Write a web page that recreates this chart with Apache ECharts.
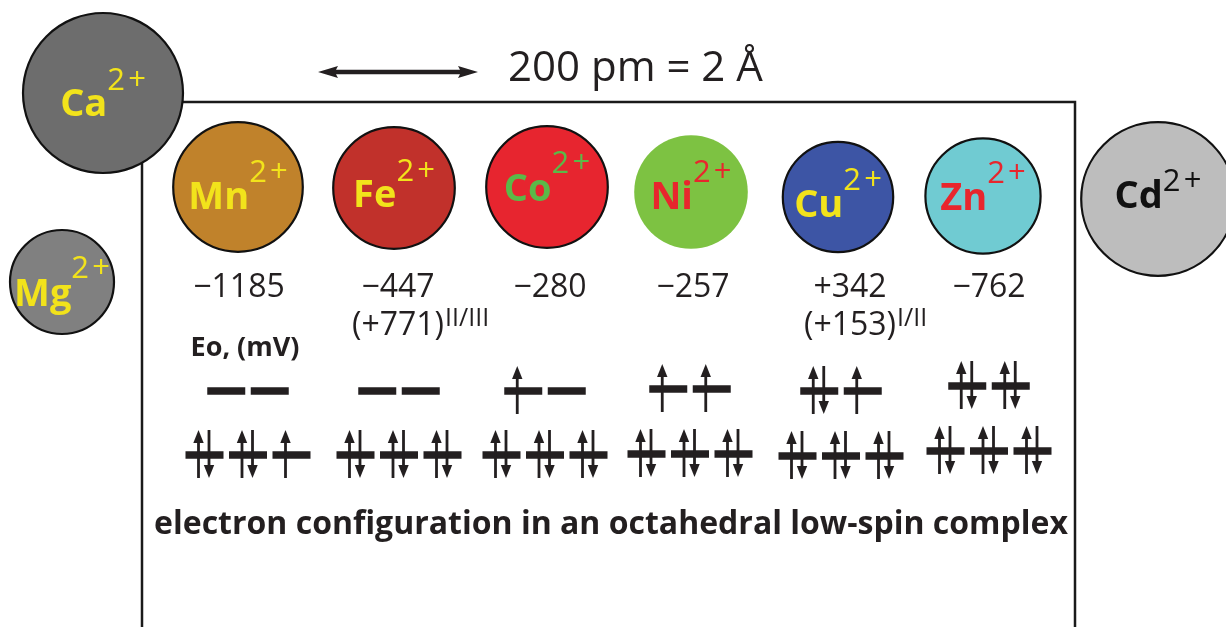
<!DOCTYPE html>
<html><head><meta charset="utf-8">
<script src="https://cdn.jsdelivr.net/npm/echarts@6/dist/echarts.min.js"></script>
<style>html,body{margin:0;padding:0;background:#fff}#chart{width:1226px;height:627px}</style>
</head><body><div id="chart"></div>
<script>
// ---------------- data ----------------
const ionSymbols = ['Ca', 'Mg', 'Mn', 'Fe', 'Co', 'Ni', 'Cu', 'Zn', 'Cd'];
const ionCharge = '2+';
const ionRadiusPm = [100, 65, 81, 76, 76, 71, 69, 72, 96];
const scaleBarPm = 200;
const scaleLabel = '200 pm = 2 Å';

const metals = ['Mn', 'Fe', 'Co', 'Ni', 'Cu', 'Zn'];
const e0mV = [-1185, -447, -280, -257, 342, -762];
const e0AltmV = [null, 771, null, null, 153, null];
const e0AltCouple = [null, 'II/III', null, null, 'I/II', null];
const t2gElectrons = [[2, 2, 1], [2, 2, 2], [2, 2, 2], [2, 2, 2], [2, 2, 2], [2, 2, 2]];
const egElectrons = [[0, 0], [0, 0], [1, 0], [1, 1], [2, 1], [2, 2]];
const e0Title = 'Eo, (mV)';
const caption = 'electron configuration in an octahedral low-spin complex';

// ---------------- layout / style ----------------
const PX_PER_PM = 0.8;
const ionCx = [103, 62, 238, 394, 547, 691, 838, 983, 1158];
const ionCy = [93, 282, 187, 188, 187, 192, 197, 196, 199];
const ionFill = ['#6d6d6d', '#808080', '#c0822b', '#c1312b', '#e7252f', '#7dc242', '#3d55a5', '#70cbd2', '#bdbdbd'];
const ionTextColor = ['#f2e31b', '#f2e31b', '#f2e31b', '#f2e31b', '#5bb948', '#e8262d', '#f2e31b', '#e8262d', '#111111'];
const ionOutline = [true, true, true, true, true, false, true, true, true];
const symDy = [25, 26, 24, 21, 16, 19, 22, 16, 11];
const supDy = [-2, -3, -4, -6, -13, -9, -6, -12, -7];

const numCx = [239, 398, 550, 693, 850, 989];
const groupCx = [248, 399, 545, 690, 841, 989];
const egY = [391, 391, 391, 389, 391, 386];
const t2gY = [455, 455, 455, 454, 456, 451];

const INK = '#231f20';
const FAM = '"Open Sans", "DejaVu Sans", sans-serif';
const MID = 0.33; // baseline -> middle offset factor

const mctx = document.createElement('canvas').getContext('2d');
function measure(t, font) { mctx.font = font; return mctx.measureText(t).width; }
function txt(text, x, baseline, size, weight, color, align) {
  const font = (weight || 'normal') + ' ' + size + 'px ' + FAM;
  return { type: 'text', style: { text, x, y: baseline - MID * size, font, fill: color,
    textAlign: align || 'left', verticalAlign: 'middle', textVerticalAlign: 'middle' } };
}
function fmt(v) { return (v < 0 ? '\u2212' : '+') + Math.abs(v); }

// ---------------- series ----------------
const ionData = ionSymbols.map((s, i) => [ionCx[i], ionCy[i], ionRadiusPm[i], i]);
const ionSeries = {
  type: 'custom', z: 5, data: ionData, silent: true,
  renderItem(params, api) {
    const i = api.value(3);
    const c = api.coord([api.value(0), api.value(1)]);
    const r = api.size([api.value(2) * PX_PER_PM, 0])[0];
    const symSize = 38, supSize = 31;
    const sw = measure(ionSymbols[i], 'bold ' + symSize + 'px ' + FAM);
    const supText = ionCharge.split('').join('\u200a');
    const pw = measure(supText, 'normal ' + supSize + 'px ' + FAM);
    const left = c[0] - (sw + pw) / 2;
    return { type: 'group', children: [
      { type: 'circle', shape: { cx: c[0], cy: c[1], r },
        style: { fill: ionFill[i], stroke: ionOutline[i] ? '#111' : null, lineWidth: ionOutline[i] ? 2.2 : 0 } },
      txt(ionSymbols[i], left, c[1] + symDy[i], symSize, 'bold', ionTextColor[i]),
      txt(supText, left + sw, c[1] + supDy[i], supSize, 'normal', ionTextColor[i])
    ] };
  }
};

const potData = metals.map((m, i) => [numCx[i], 298, i]);
const potSeries = {
  type: 'custom', z: 4, data: potData, silent: true,
  renderItem(params, api) {
    const i = api.value(2);
    const c = api.coord([api.value(0), api.value(1)]);
    const ch = [txt(fmt(e0mV[i]), c[0], c[1], 32, 'normal', INK, 'center')];
    if (e0AltmV[i] != null) {
      const t = '(' + fmt(e0AltmV[i]) + ')';
      const w = measure(t, 'normal 32px ' + FAM);
      ch.push(txt(t, c[0], c[1] + 38, 32, 'normal', INK, 'center'));
      ch.push(txt(e0AltCouple[i], c[0] + w / 2 + 1, c[1] + 29, 25, 'normal', INK, 'left'));
    }
    return { type: 'group', children: ch };
  }
};

const orbData = [];
metals.forEach((m, g) => {
  t2gElectrons[g].forEach((n, k) => orbData.push([g, 0, k, n, t2gElectrons[g].length]));
  egElectrons[g].forEach((n, k) => orbData.push([g, 1, k, n, egElectrons[g].length]));
});
const PITCH = 43.5, BAR_W = 38, BAR_H = 7.5;
function arrow(x, y, up) {
  const top = y - 25, bot = y + 23, hl = 13, hw = 5.2;
  const st = { stroke: INK, lineWidth: 2.8 };
  if (up) return [
    { type: 'line', shape: { x1: x, y1: bot, x2: x, y2: top + hl - 1 }, style: st },
    { type: 'polygon', shape: { points: [[x, top], [x - hw, top + hl], [x + hw, top + hl]] }, style: { fill: INK } }
  ];
  return [
    { type: 'line', shape: { x1: x, y1: top, x2: x, y2: bot - hl + 1 }, style: st },
    { type: 'polygon', shape: { points: [[x, bot], [x - hw, bot - hl], [x + hw, bot - hl]] }, style: { fill: INK } }
  ];
}
const orbSeries = {
  type: 'custom', z: 4, data: orbData, silent: true,
  renderItem(params, api) {
    const g = api.value(0), lvl = api.value(1), k = api.value(2), n = api.value(3), cnt = api.value(4);
    const xc = groupCx[g] + (k - (cnt - 1) / 2) * PITCH;
    const p = api.coord([xc, lvl === 0 ? t2gY[g] : egY[g]]);
    const ch = [{ type: 'rect', shape: { x: p[0] - BAR_W / 2, y: p[1] - BAR_H / 2, width: BAR_W, height: BAR_H }, style: { fill: INK } }];
    if (n >= 1) ch.push(...arrow(p[0] - 6, p[1], true));
    if (n >= 2) ch.push(...arrow(p[0] + 4.5, p[1], false));
    return { type: 'group', children: ch };
  }
};

// ---------------- static graphics ----------------
const barLen = scaleBarPm * PX_PER_PM;
const ax1 = 318, ax2 = ax1 + barLen, ay = 72, hL = 20, hW = 6, sh = 2.3;
const graphic = [
  { type: 'polyline', z: 1, shape: { points: [[142, 660], [142, 102], [1075, 102], [1075, 660]] },
    style: { stroke: '#1a1a1a', lineWidth: 2.5, fill: null } },
  { type: 'polygon', z: 1, shape: { points: [
      [ax1, ay], [ax1 + hL, ay - hW], [ax1 + hL - 2, ay - sh], [ax2 - hL + 2, ay - sh], [ax2 - hL, ay - hW],
      [ax2, ay], [ax2 - hL, ay + hW], [ax2 - hL + 2, ay + sh], [ax1 + hL - 2, ay + sh], [ax1 + hL, ay + hW]] },
    style: { fill: INK } },
  Object.assign(txt(scaleLabel, 508, 83, 42, 'normal', INK, 'left'), { z: 1 }),
  Object.assign(txt(e0Title, 245, 357, 27, 'bold', INK, 'center'), { z: 1 }),
  Object.assign(txt(caption, 611, 535, 32, 'bold', INK, 'center'), { z: 1 })
];

const chart = echarts.init(document.getElementById('chart'), null, { renderer: 'canvas' });
chart.setOption({
  animation: false,
  grid: { left: 0, right: 0, top: 0, bottom: 0 },
  xAxis: { type: 'value', min: 0, max: 1226, show: false },
  yAxis: { type: 'value', min: 0, max: 627, inverse: true, show: false },
  graphic: graphic,
  series: [ionSeries, potSeries, orbSeries]
});
</script></body></html>
